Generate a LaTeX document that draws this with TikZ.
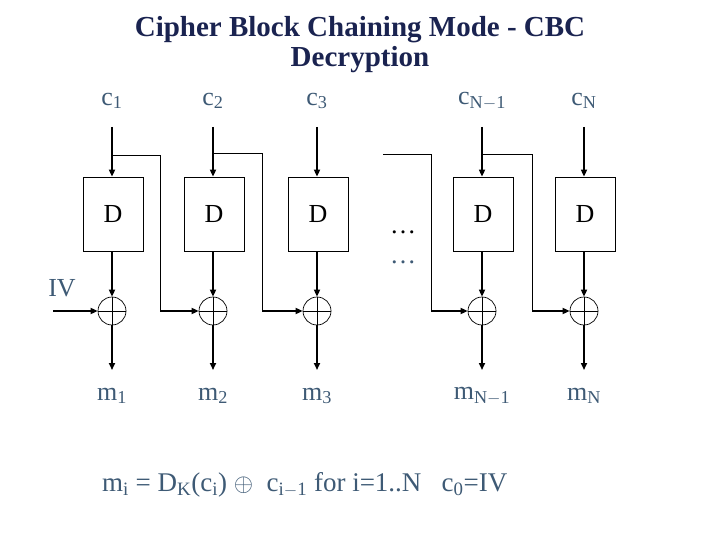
\documentclass[tikz,border=0pt]{standalone}
\usepackage{fontspec}
\setmainfont{Liberation Serif}
\usetikzlibrary{arrows.meta}
\definecolor{lab}{HTML}{3E5A75}
\definecolor{ttl}{HTML}{1A2350}
\begin{document}
\begin{tikzpicture}[x=1pt,y=-1pt,
  box/.style={draw,line width=0.7pt,minimum width=60pt,minimum height=74pt,inner sep=0pt,font=\fontsize{26}{26}\selectfont},
  xo/.style={draw,circle,line width=0.7pt,minimum size=28pt,inner sep=0pt},
  lbl/.style={text=lab,font=\fontsize{26}{26}\selectfont,inner sep=0pt},
  thick/.style={line width=1.6pt,-{Triangle[length=7pt,width=6pt]}},
  thin/.style={line width=0.9pt},
  thinar/.style={line width=1.6pt,-{Triangle[length=7pt,width=6pt]}}]
\useasboundingbox (0,0) rectangle (720,540);
\node[font=\bfseries\fontsize{29}{30}\selectfont,text=ttl,align=center] (title) at (360,45) {Cipher Block Chaining Mode - CBC\\Decryption};
\foreach \i/\x/\c/\m in {1/112/1/1,2/213/2/2,3/317/3/3,4/482/N-1/N-1,5/584/N/N}{
  \node[box] (d\i) at (\x+1,214) {D};
  \node[xo] (x\i) at (\x,311) {};
  \draw[thin] (x\i.north) -- (x\i.south) (x\i.west) -- (x\i.east);
  \node[lbl] (c\i) at (\x,101) {c$_{\mathrm{\c}}$};
  \node[lbl] (m\i) at (\x,396) {m$_{\mathrm{\m}}$};
  \coordinate (t\i) at (\x,127);
  \coordinate (b\i) at (\x,370);
  \draw[thick] (t\i) -- (d\i.north-|t\i);
  \draw[thick] (d\i.south-|x\i) -- (x\i.north);
  \draw[thick] (x\i.south) -- (b\i);
}
\node[lbl,text=black] (dots1) at (403,232) {\dots};
\node[lbl] (dots2) at (403,262) {\dots};
\node[lbl] (iv) at (62,288) {IV};
\coordinate (ivs) at (53,311);
\draw[thinar] (ivs) -- (x1.west);
% chaining
\coordinate (s1) at (112,155); \coordinate (s2) at (213,153);
\coordinate (s3) at (383,154); \coordinate (s4) at (482,154);
\draw[thin] (s1) -- (160,155) -- (160,311); \draw[thinar] (160,311) -- (x2.west);
\draw[thin] (s2) -- (262,153) -- (262,311); \draw[thinar] (262,311) -- (x3.west);
\draw[thin] (s3) -- (431,154) -- (431,311); \draw[thinar] (431,311) -- (x4.west);
\draw[thin] (s4) -- (532,154) -- (532,311); \draw[thinar] (532,311) -- (x5.west);
\node[lbl,anchor=west,font=\fontsize{27}{27}\selectfont] (f) at (102,485)
 {m$_{\mathrm{i}}$ = D$_{\mathrm{K}}$(c$_{\mathrm{i}}$) $\oplus$\ \ c$_{\mathrm{i-1}}$ for i=1..N\ \ \ c$_{\mathrm{0}}$=IV};
\end{tikzpicture}
\end{document}
